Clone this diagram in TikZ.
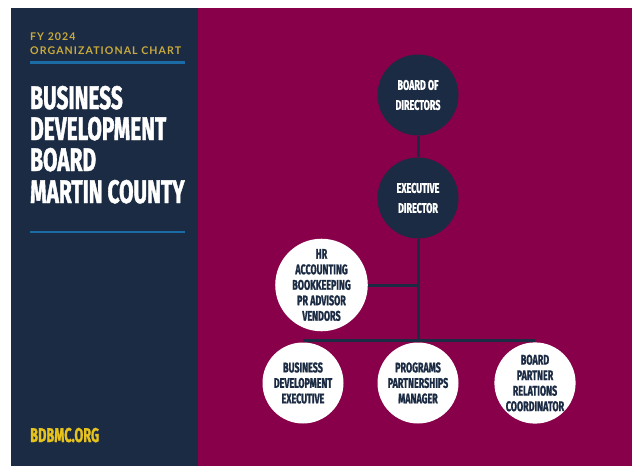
\documentclass[tikz,border=0pt]{standalone}
\usepackage{fontspec}
\newfontfamily\condfont[FakeStretch=0.64,BoldFeatures={FakeBold=1.2}]{Fira Sans}
\newfontfamily\headfont[LetterSpace=10]{Lato}
\definecolor{navy}{HTML}{1B2B43}
\definecolor{plum}{HTML}{88004A}
\definecolor{gold}{HTML}{C9AA3C}
\definecolor{rule}{HTML}{1B6BA6}
\definecolor{url}{HTML}{E6C21D}
\tikzset{
  dcir/.style={circle, fill=navy, minimum size=81pt, inner sep=0pt, align=center, text=white,
    font=\condfont\bfseries\fontsize{14}{20}\selectfont},
  wcir/.style={circle, fill=white, minimum size=81pt, inner sep=0pt, align=center, text=navy,
    font=\condfont\bfseries\fontsize{14}{15.5}\selectfont},
  link/.style={navy, line width=3pt},
  ttl/.style={anchor=base west, inner sep=0pt, text=white, font=\condfont\bfseries\fontsize{32.6}{31}\selectfont}
}
\begin{document}
\begin{tikzpicture}[x=1pt,y=-1pt]
\useasboundingbox (0,0) rectangle (632,466);
\fill[white] (0,0) rectangle (632,466);
\fill[navy] (11,8) rectangle (198,466);
\fill[plum] (198,8) rectangle (632,466);

% left panel
\node[anchor=base west, inner sep=0pt, text=gold, font=\headfont\bfseries\fontsize{10.6}{10}\selectfont] (hd0) at (30,40) {FY 2024};
\node[anchor=base west, inner sep=0pt, text=gold, font=\headfont\bfseries\fontsize{10.6}{10}\selectfont] (hd1) at (30,54) {ORGANIZATIONAL CHART};
\draw[rule, line width=3pt] (30,62.5) -- (185,62.5);

\node[ttl] (t0) at (30,109) {BUSINESS};
\node[ttl] (t1) at (30,140) {DEVELOPMENT};
\node[ttl] (t2) at (30,171) {BOARD};
\node[ttl] (t3) at (30,203) {MARTIN COUNTY};
\draw[rule, line width=2pt] (30,232) -- (185,232);

\node[anchor=base west, inner sep=0pt, text=url, font=\condfont\bfseries\fontsize{20}{20}\selectfont] (web) at (30,442) {BDBMC.ORG};

% chart
\node[dcir] (nid0) at (418,95) {BOARD OF\\DIRECTORS};
\node[dcir] (nid1) at (418,198) {EXECUTIVE\\DIRECTOR};
\node[wcir] (nid2) at (321.5,285) {HR\\ACCOUNTING\\BOOKKEEPING\\PR ADVISOR\\VENDORS};
\node[wcir] (nid3) at (303,383) {BUSINESS\\DEVELOPMENT\\EXECUTIVE};
\node[wcir] (nid4) at (418,383) {PROGRAMS\\PARTNERSHIPS\\MANAGER};
\node[wcir] (nid5) at (535,383) {BOARD\\PARTNER\\RELATIONS\\COORDINATOR};

\coordinate (j0) at (418,340);
\coordinate (jl) at (303,340);
\coordinate (jr) at (535,340);
\coordinate (j1) at (nid2 -| nid1);

\draw[link] (nid0) -- (nid1);
\draw[link] (nid1) -- (j0);
\draw[link] (nid2) -- (j1);
\draw[link] (jl) -- (jr);

\end{tikzpicture}
\end{document}
